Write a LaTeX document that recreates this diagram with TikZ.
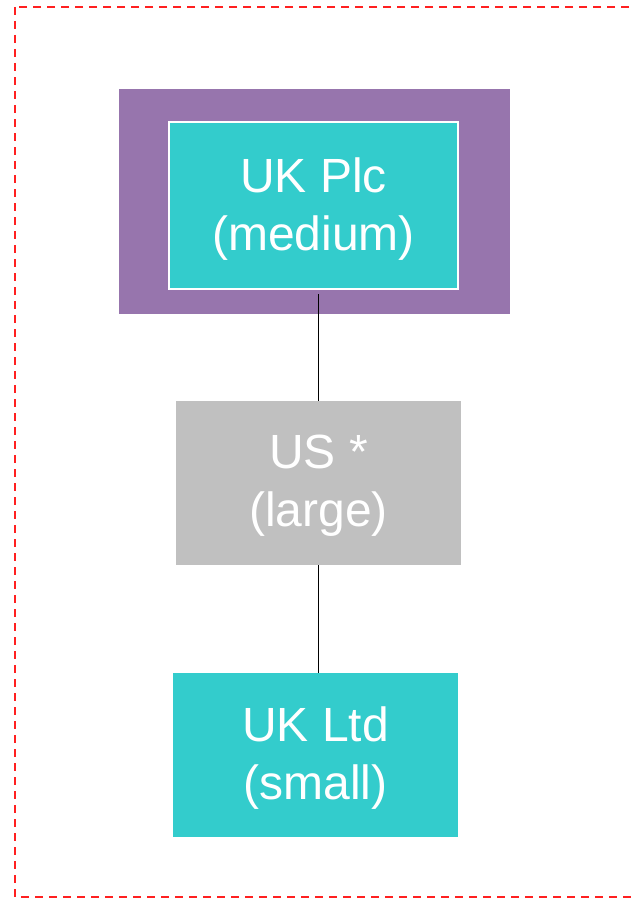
\documentclass[tikz,border=0pt]{standalone}
\usepackage{fontspec}
\setmainfont{Liberation Sans}
\definecolor{boxteal}{HTML}{33CCCC}
\definecolor{boxpurple}{HTML}{9775AD}
\definecolor{boxgray}{HTML}{C0C0C0}
\definecolor{framered}{HTML}{FF2020}
\tikzset{
  entity/.style={rectangle, inner sep=0pt},
  caption/.style={inner sep=0pt, text=white, align=center,
    font=\fontsize{48}{58}\selectfont},
  link/.style={draw=black, line width=1.2pt},
}
\begin{document}
\begin{tikzpicture}[x=1pt,y=-1pt]
  \useasboundingbox (0,0) rectangle (631,899);
  \begin{scope}
    \clip (0,0) rectangle (631,899);
    % dashed red outer frame (runs off the right edge)
    \draw[framered, line width=1.5pt, dash pattern=on 8pt off 6pt]
      (15,7) rectangle (650,897);
  \end{scope}
  % purple holding band
  \node[entity, fill=boxpurple, minimum width=391pt, minimum height=225pt]
    (band) at (314.5,201.5) {};
  % entities
  \node[entity, fill=boxteal, draw=white, line width=2pt,
    minimum width=289pt, minimum height=167pt] (plc) at (313.5,205.5) {};
  \node[entity, fill=boxgray, minimum width=285pt, minimum height=164pt]
    (us) at (318.5,483) {};
  \node[entity, fill=boxteal, minimum width=285pt, minimum height=164pt]
    (ltd) at (315.5,755) {};
  % entity captions
  \node[caption] (plctext) at ([yshift=-4pt]plc.center) {UK Plc\\(medium)};
  \node[caption] (ustext) at ([yshift=-3pt]us.center) {US *\\(large)};
  \node[caption] (ltdtext) at ([yshift=-3pt]ltd.center) {UK Ltd\\(small)};
  % ownership links
  \draw[link] (plc.south -| us.north) ++(0,4) -- (us.north);
  \draw[link] (us.south) -- (us.south |- ltd.north);
\end{tikzpicture}
\end{document}
